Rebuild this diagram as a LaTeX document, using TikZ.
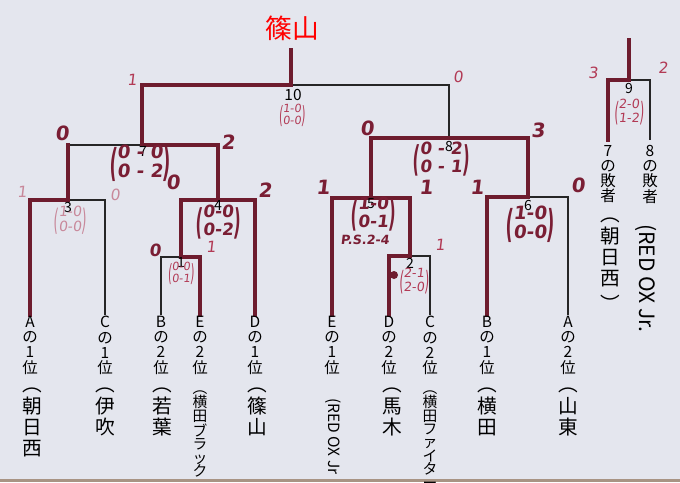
\documentclass[tikz,border=0pt]{standalone}
\usepackage{fontspec}
\usepackage{graphicx}
\setmainfont{Noto Sans CJK JP}
\newfontfamily\hand[FakeSlant=0.12]{DejaVu Sans}
\definecolor{bg}{HTML}{E4E6EE}
\definecolor{maroon}{HTML}{6E1C2E}
\definecolor{sbold}{HTML}{7A1E34}
\definecolor{sthin}{HTML}{B23A55}
\definecolor{spink}{HTML}{C8889A}
\definecolor{strip}{HTML}{A89484}
\newcommand\myscore[2]{$\vcenter{\hbox{\scalebox{0.9}[2.1]{(}}}\vcenter{\hbox{\begin{tabular}{@{}c@{}}#1\\#2\end{tabular}}}\vcenter{\hbox{\scalebox{0.9}[2.1]{)}}}$}
\begin{document}
\begin{tikzpicture}[x=0.025cm,y=-0.025cm,
  thinl/.style={line width=1pt, black!85},
  win/.style={line width=3.4pt, maroon, line cap=rect, line join=miter},
  mnum/.style={font=\fontsize{10}{10}\selectfont, inner sep=0.5pt, black},
  leaf/.style={anchor=north, align=center, font=\fontsize{11}{10.8}\selectfont, inner sep=0},
  team/.style={anchor=north, align=center, font=\fontsize{14}{15}\selectfont, inner sep=0},
  teams/.style={anchor=north, align=center, font=\fontsize{10.5}{9.5}\selectfont, inner sep=0},
  hb/.style={font=\hand\bfseries\fontsize{14}{14}\selectfont, text=sbold, inner sep=0},
  ht/.style={font=\hand\fontsize{11}{11}\selectfont, text=sthin, inner sep=0},
  sb/.style={font=\hand\bfseries\fontsize{12}{12.5}\selectfont, text=sbold, inner sep=0},
  st/.style={font=\hand\fontsize{8}{8.5}\selectfont, text=sthin, inner sep=0}
]
\fill[bg] (0,0) rectangle (680,482);
\useasboundingbox (0,0) rectangle (680,482);
\fill[strip] (0,479) rectangle (680,482);

% title
\node[font=\fontsize{19}{19}\selectfont, text=red, inner sep=0] (title) at (292,28) {篠山};

% coordinates
\coordinate (top10) at (291,50);
\coordinate (m10) at (291,85);
\coordinate (m7) at (142,145);
\coordinate (m8) at (449,138);
\coordinate (m3) at (68,200);
\coordinate (m4) at (218,200);
\coordinate (m1) at (181,257);
\coordinate (m5) at (371,198);
\coordinate (m6) at (528,197);
\coordinate (m2) at (410,256);
\coordinate (top9) at (629,40);
\coordinate (m9) at (629,80);
\coordinate (A1) at (30,315);
\coordinate (C1) at (105,315);
\coordinate (B2) at (161,315);
\coordinate (E2) at (200,315);
\coordinate (D1) at (255,315);
\coordinate (E1) at (332,315);
\coordinate (D2) at (389,315);
\coordinate (C2) at (430,315);
\coordinate (B1) at (487,315);
\coordinate (A2) at (568,315);
\coordinate (L7) at (608,140);
\coordinate (L8) at (650,140);

% thin brackets
\draw[thinl] (m7) |- (m10) -| (m8);
\draw[thinl] (m3) |- (m7) -| (m4);
\draw[thinl] (A1) |- (m3) -| (C1);
\draw[thinl] (m1) |- (m4) -| (D1);
\draw[thinl] (B2) |- (m1) -| (E2);
\draw[thinl] (m5) |- (m8) -| (m6);
\draw[thinl] (E1) |- (m5) -| (m2);
\draw[thinl] (D2) |- (m2) -| (C2);
\draw[thinl] (B1) |- (m6) -| (A2);
\draw[thinl] (L7) |- (m9) -| (L8);

% winning paths
\draw[win] (top10) -- (m10) -- (m10 -| m7) -- (m7) -- (m7 -| m4) -- (m4);
\draw[win] (D1) -- (m4 -| D1) -- (m4 -| m1) -- (m1) -- (m1 -| E2) -- (E2);
\draw[win] (m3) -- (m7 -| m3);
\draw[win] (A1) -- (m3 -| A1) -- (m3);
\draw[win] (m6) -- (m8 -| m6) -- (m8 -| m5) -- (m5);
\draw[win] (m2) -- (m5 -| m2) -- (m5 -| E1) -- (E1);
\draw[win] (D2) -- (m2 -| D2) -- (m2);
\draw[win] (B1) -- (m6 -| B1) -- (m6);
\draw[win] (top9) -- (m9) -- (m9 -| L7) -- (L7);

% match numbers
\node[mnum, font=\fontsize{11}{11}\selectfont] (n10) at (293,95) {10};
\node[mnum] (n7) at (143,151) {7};
\node[mnum] (n3) at (68,207) {3};
\node[mnum] (n4) at (218,205) {4};
\node[mnum] (n1) at (181,262) {1};
\node[mnum] (n8) at (449,146) {8};
\node[mnum] (n5) at (371,204) {5};
\node[mnum] (n2) at (410,263) {2};
\node[mnum] (n6) at (528,205) {6};
\node[mnum] (n9) at (629,88) {9};

% scores
\node[st] (s10) at (292,116) {\myscore{1-0}{0-0}};
\node[sb, font=\hand\bfseries\fontsize{13}{14}\selectfont] (s7) at (140,164) {\myscore{0 - 0}{0 - 2}};
\node[st, text=spink, font=\hand\fontsize{10}{10.5}\selectfont] (s3) at (70,221) {\myscore{1-0}{0-0}};
\node[sb] (s4) at (218,223) {\myscore{0-0}{0-2}};
\node[st] (s1) at (181,274) {\myscore{0-0}{0-1}};
\node[sb] (s8) at (441,160) {\myscore{0 - 2}{0 - 1}};
\node[sb] (s5) at (373,215) {\myscore{1-0}{0-1}};
\node[sb, font=\hand\bfseries\fontsize{9}{9}\selectfont] (ps5) at (365,240) {P.S.2-4};
\node[st, font=\hand\fontsize{9}{9.5}\selectfont] (s2) at (414,282) {\myscore{2-1}{2-0}};
\node[sb, font=\hand\bfseries\fontsize{13}{14}\selectfont] (s6) at (530,225) {\myscore{1-0}{0-0}};
\node[st, font=\hand\fontsize{9}{10}\selectfont] (s9) at (629,113) {\myscore{2-0}{1-2}};
\fill[maroon] (394,275) circle (4);

% goals
\node[ht] (w10l) at (132,80) {1};
\node[ht] (w10r) at (458,77) {0};
\node[hb] (w7l) at (62,133) {0};
\node[hb] (w7r) at (228,142) {2};
\node[ht, text=spink] (w3l) at (22,192) {1};
\node[ht, text=spink] (w3r) at (115,195) {0};
\node[hb] (w4l) at (173,182) {0};
\node[hb] (w4r) at (265,190) {2};
\node[hb, font=\hand\bfseries\fontsize{12}{12}\selectfont] (w1l) at (155,250) {0};
\node[ht] (w1r) at (211,247) {1};
\node[hb] (w8l) at (367,128) {0};
\node[hb] (w8r) at (538,130) {3};
\node[hb] (w5l) at (323,187) {1};
\node[hb] (w5r) at (426,187) {1};
\node[ht] (w2r) at (440,245) {1};
\node[hb] (w6l) at (477,187) {1};
\node[hb] (w6r) at (578,185) {0};
\node[ht] (w9l) at (593,73) {3};
\node[ht] (w9r) at (663,68) {2};

% leaf labels
\node[leaf] (tA1) at (30,316) {A\\の\\1\\位};
\node[leaf] (tC1) at (105,316) {C\\の\\1\\位};
\node[leaf] (tB2) at (161,316) {B\\の\\2\\位};
\node[leaf] (tE2) at (200,316) {E\\の\\2\\位};
\node[leaf] (tD1) at (255,316) {D\\の\\1\\位};
\node[leaf] (tE1) at (332,316) {E\\の\\1\\位};
\node[leaf] (tD2) at (389,316) {D\\の\\2\\位};
\node[leaf] (tC2) at (430,316) {C\\の\\2\\位};
\node[leaf] (tB1) at (487,316) {B\\の\\1\\位};
\node[leaf] (tA2) at (568,316) {A\\の\\2\\位};
\node[leaf] (tL7) at (608,145) {7\\の\\敗\\者};
\node[leaf] (tL8) at (650,145) {8\\の\\敗\\者};

% team names
\node[team] (nA1) at (32,388) {︵\\朝\\日\\西};
\node[team] (nC1) at (105,388) {︵\\伊\\吹};
\node[team] (nB2) at (162,388) {︵\\若\\葉};
\node[teams] (nE2) at (200,390) {︵\\横\\田\\ブ\\ラ\\ッ\\ク};
\node[team] (nD1) at (257,388) {︵\\篠\\山};
\node[rotate=-90, anchor=west, inner sep=0, font=\fontsize{11}{11}\selectfont] (nE1) at (333,398) {(RED OX Jr};
\node[team] (nD2) at (392,388) {︵\\馬\\木};
\node[teams] (nC2) at (430,390) {︵\\横\\田\\フ\\ァ\\イ\\タ\\ー};
\node[team] (nB1) at (487,388) {︵\\横\\田};
\node[team] (nA2) at (568,388) {︵\\山\\東};
\node[team] (nL7) at (610,218) {︵\\朝\\日\\西\\[4pt]︶};
\node[rotate=-90, anchor=west, inner sep=0, font=\fontsize{15}{15}\selectfont] (nL8) at (646,224) {(RED OX Jr.};
\end{tikzpicture}
\end{document}
